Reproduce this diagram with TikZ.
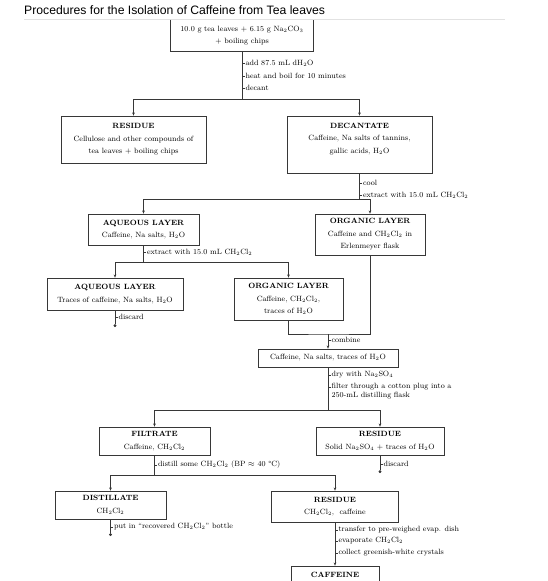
\documentclass[tikz,border=0pt]{standalone}
\usepackage{fontspec}
\newfontfamily\titlefont{Liberation Sans}
\usetikzlibrary{arrows.meta, positioning, calc}
\definecolor{BoxLine}{RGB}{55,55,55}
\definecolor{RuleGray}{RGB}{226,226,226}
\newcommand{\bodyfont}{\fontsize{7.6}{12.5}\selectfont}
\newcommand{\hd}[1]{\textbf{#1}}
\tikzset{
  stagebox/.style={draw=BoxLine, line width=0.6pt, fill=white, align=center, inner sep=1pt, font=\bodyfont},
  link/.style={draw=BoxLine, line width=0.5pt},
  flow/.style={link, -{Stealth[length=3.2pt,width=2.6pt]}},
  stub/.style={link, -{Circle[length=2.8pt]}},
  note/.style={anchor=west, inner sep=0.8pt, font=\bodyfont},
}
\begin{document}
\begin{tikzpicture}[x=1pt, y=-1pt]
  \useasboundingbox (0,0) rectangle (548,581);
  \clip (0,0) rectangle (548,581);
  \fill[white] (0,0) rectangle (548,581);

  % Title
  \node[anchor=west, inner sep=0pt, font=\titlefont\fontsize{12.2}{14}\selectfont] (title) at (24,10) {Procedures for the Isolation of Caffeine from Tea leaves};
  \draw[RuleGray, line width=0.6pt] (24,19.5) -- (505,19.5);

  % Boxes
  \node[stagebox, draw=none, minimum width=142pt, minimum height=31pt] (tea) at (242,35.5) {10.0 g tea leaves + 6.15 g Na$_2$CO$_3$\\+ boiling chips};
  \draw[BoxLine, line width=0.6pt] (tea.north west) -- (tea.south west) -- (tea.south east) -- (tea.north east);
  \node[stagebox, minimum width=145pt, minimum height=47pt] (res1) at (133.5,139.5) {\hd{RESIDUE}\\Cellulose and other compounds of\\tea leaves + boiling chips};
  \node[stagebox, minimum width=145pt, minimum height=57pt] (dec) at (359.5,144.5) {\hd{DECANTATE}\\Caffeine, Na salts of tannins,\\gallic acids, H$_2$O\\~};
  \node[stagebox, minimum width=111pt, minimum height=31pt] (aq1) at (143.5,229.5) {\hd{AQUEOUS LAYER}\\Caffeine, Na salts, H$_2$O};
  \node[stagebox, minimum width=110pt, minimum height=41pt] (org1) at (370,234.5) {\hd{ORGANIC LAYER}\\Caffeine and CH$_2$Cl$_2$ in\\Erlenmeyer flask};
  \node[stagebox, minimum width=136pt, minimum height=32pt] (aq2) at (115,294) {\hd{AQUEOUS LAYER}\\Traces of caffeine, Na salts, H$_2$O};
  \node[stagebox, minimum width=109pt, minimum height=42pt] (org2) at (288.5,299) {\hd{ORGANIC LAYER}\\Caffeine, CH$_2$Cl$_2$,\\traces of H$_2$O};
  \node[stagebox, minimum width=140pt, minimum height=18pt] (comb) at (328,358) {Caffeine, Na salts, traces of H$_2$O};
  \node[stagebox, minimum width=111pt, minimum height=28pt] (filt) at (154.5,441) {\hd{FILTRATE}\\Caffeine, CH$_2$Cl$_2$};
  \node[stagebox, minimum width=128pt, minimum height=28pt] (res2) at (380,441) {\hd{RESIDUE}\\Solid Na$_2$SO$_4$ + traces of H$_2$O};
  \node[stagebox, minimum width=111pt, minimum height=28pt] (dist) at (110.5,505) {\hd{DISTILLATE}\\CH$_2$Cl$_2$};
  \node[stagebox, minimum width=127pt, minimum height=31pt] (res3) at (335,506.5) {\hd{RESIDUE}\\CH$_2$Cl$_2$,~ caffeine};
  \node[stagebox, minimum width=88pt, minimum height=18pt] (caff) at (335,575) {\hd{CAFFEINE}};

  % Connectors
  \coordinate (split1) at (242,99);
  \draw[link] (tea.south) -- (split1);
  \draw[flow] (split1) -| (res1.north);
  \draw[flow] (split1) -| (dec.north);

  \coordinate (split2) at (359.5,199);
  \draw[link] (dec.south) -- (split2);
  \draw[flow] (split2) -| (aq1.north);
  \draw[flow] (split2) -| (org1.north);

  \coordinate (split3) at (143.5,262);
  \draw[link] (aq1.south) -- (split3);
  \draw[flow] (split3) -| (aq2.north);
  \draw[flow] (split3) -| (org2.north);

  \coordinate (aq2end) at (115,327);
  \draw[stub] (aq2.south) -- (aq2end);

  \coordinate (merge) at (328,334);
  \draw[link] (org2.south) |- (merge) -| (org1.south);
  \draw[flow] (merge) -- (comb.north);

  \coordinate (split4) at (328,410);
  \draw[link] (comb.south) -- (split4);
  \draw[flow] (split4) -| (filt.north);
  \draw[flow] (split4) -| (res2.north);

  \coordinate (res2end) at (380,473);
  \draw[stub] (res2.south) -- (res2end);

  \coordinate (split5) at (154.5,475);
  \draw[link] (filt.south) -- (split5);
  \draw[flow] (split5) -| (dist.north);
  \draw[flow] (split5) -| (res3.north);

  \coordinate (distend) at (110.5,536);
  \draw[stub] (dist.south) -- (distend);

  \draw[flow] (res3.south) -- (caff.north);

  % Step notes
  \foreach \y/\t [count=\i] in {63/{add 87.5 mL dH$_2$O}, 76/{heat and boil for 10 minutes}, 88/{decant}}
    \draw[link] (242,\y) -- ++(2.5,0) node[note] (boil\i) {\t};
  \foreach \y/\t [count=\i] in {183/{cool}, 195/{extract with 15.0 mL CH$_2$Cl$_2$}}
    \draw[link] (359.5,\y) -- ++(2.5,0) node[note] (cool\i) {\t};
  \draw[link] (143.5,252) -- ++(2.5,0) node[note] (extract) {extract with 15.0 mL CH$_2$Cl$_2$};
  \draw[link] (115,317) -- ++(2.5,0) node[note] (discard1) {discard};
  \draw[link] (328,340) -- ++(2.5,0) node[note] (combine) {combine};
  \foreach \y/\t [count=\i] in {375/{dry with Na$_2$SO$_4$}, 387/{filter through a cotton plug into a}}
    \draw[link] (328,\y) -- ++(2.5,0) node[note] (dry\i) {\t};
  \node[note] (dry3) at (dry2.south west) [anchor=north west] {250-mL distilling flask};
  \draw[link] (380,464) -- ++(2.5,0) node[note] (discard2) {discard};
  \draw[link] (154.5,465) -- ++(2.5,0) node[note] (distill) {distill some CH$_2$Cl$_2$ (BP $\approx$ 40 °C)};
  \draw[link] (110.5,527) -- ++(2.5,0) node[note] (bottle) {put in ``recovered CH$_2$Cl$_2$'' bottle};
  \foreach \y/\t [count=\i] in {530/{transfer to pre-weighed evap. dish}, 541/{evaporate CH$_2$Cl$_2$}, 553/{collect greenish-white crystals}}
    \draw[link] (335,\y) -- ++(2.5,0) node[note] (evap\i) {\t};
\end{tikzpicture}
\end{document}
